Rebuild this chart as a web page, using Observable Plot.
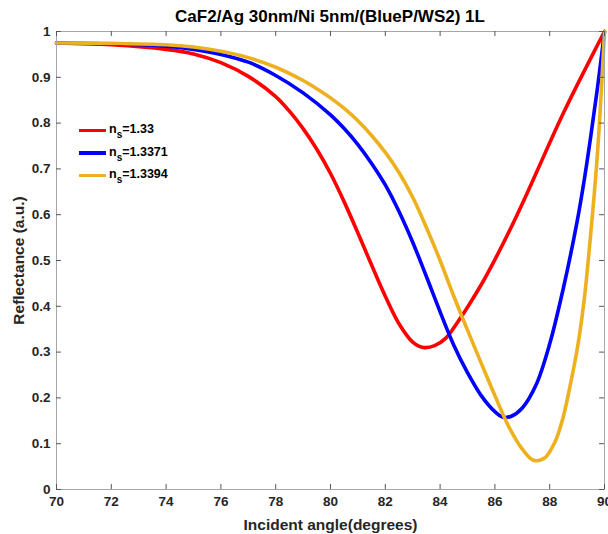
<!DOCTYPE html>
<html><head><meta charset="utf-8">
<script src="https://cdn.jsdelivr.net/npm/d3@7"></script>
<script src="https://cdn.jsdelivr.net/npm/@observablehq/plot@0.6"></script>
<style>
body{margin:0;background:#fff;font-family:"Liberation Sans",Arial,sans-serif;}
#wrap{position:relative;width:608px;height:534px;overflow:hidden;background:#fff}
#title{height:24px;box-sizing:border-box;padding:8px 4px 0 56px;text-align:center;font-weight:bold;font-size:17px;color:#000;line-height:17px;white-space:nowrap}
#legend{position:absolute;left:79px;top:119px;font-weight:bold;font-size:12.5px;color:#000}
.row{display:flex;align-items:center;height:22.5px}
.sw{width:27px;height:3.5px;margin-right:3px}
.lab{position:relative;top:-1px}
.lab sub{font-size:10px;vertical-align:-5px;line-height:0}
</style></head>
<body><div id="wrap"><div id="title"></div><div id="chart"></div><div id="legend"></div></div>
<script>
const title = "CaF2/Ag 30nm/Ni 5nm/(BlueP/WS2) 1L";
const xLabel = "Incident angle(degrees)";
const yLabel = "Reflectance (a.u.)";
const xTicks = [70,72,74,76,78,80,82,84,86,88,90];
const yTicks = [0,0.1,0.2,0.3,0.4,0.5,0.6,0.7,0.8,0.9,1];
const seriesNames = ["1.33","1.3371","1.3394"];
const seriesColors = ["#ff0000","#0000ff","#edb120"];

const redAngle = [70,72,74,75,76,77,78,78.5,79,79.5,80,80.5,81,81.5,82,82.5,83,83.4,83.8,84.2,84.6,85,85.5,86,86.5,87,87.5,88,88.5,89,89.5,90];
const redR     = [0.975,0.971,0.961,0.951,0.932,0.902,0.858,0.826,0.788,0.743,0.690,0.628,0.560,0.490,0.422,0.362,0.322,0.310,0.314,0.330,0.362,0.398,0.447,0.502,0.561,0.624,0.690,0.757,0.822,0.883,0.942,1.0];

const blueAngle = [70,72,74,75,76,77,78,79,80,80.5,81,81.5,82,82.5,83,83.5,84,84.5,85,85.5,86,86.3,86.6,87,87.5,88,88.5,89,89.25,89.5,89.75,90];
const blueR     = [0.975,0.973,0.968,0.961,0.950,0.933,0.904,0.866,0.818,0.788,0.753,0.712,0.665,0.607,0.540,0.465,0.388,0.315,0.255,0.205,0.170,0.158,0.160,0.178,0.228,0.318,0.440,0.585,0.672,0.772,0.880,1.0];

const yellowAngle = [70,72,74,75,76,77,78,79,79.5,80,80.5,81,81.5,82,82.5,83,83.5,84,84.5,85,85.5,86,86.5,87,87.4,87.8,88.2,88.5,88.75,89,89.25,89.5,89.75,90];
const yellowR     = [0.975,0.974,0.971,0.966,0.957,0.943,0.922,0.893,0.875,0.855,0.832,0.805,0.773,0.736,0.692,0.638,0.572,0.500,0.422,0.348,0.276,0.205,0.138,0.088,0.064,0.068,0.105,0.160,0.228,0.305,0.410,0.560,0.740,1.0];

const toRows = (a, r) => a.map((x, i) => ({angle: x, R: r[i]}));
const series = [toRows(redAngle, redR), toRows(blueAngle, blueR), toRows(yellowAngle, yellowR)];

document.getElementById("title").textContent = title;

const axisColor = "#262626";
const frameColor = "#a6a6a6";
const tickDX = 0.18, tickDY = 0.011;

const plot = Plot.plot({
  width: 608, height: 510,
  marginLeft: 56, marginRight: 4, marginTop: 7, marginBottom: 45,
  style: {fontFamily: "'Liberation Sans', Arial, sans-serif", background: "#fff"},
  x: {domain: [70, 90]},
  y: {domain: [0, 1]},
  marks: [
    ...series.map((rows, i) => Plot.line(rows, {x: "angle", y: "R", stroke: seriesColors[i], strokeWidth: 3.6, curve: "catmull-rom"})),
    Plot.frame({stroke: frameColor, strokeWidth: 1}),
    Plot.ruleX(xTicks, {x: d => d, y1: 0, y2: tickDY, stroke: "#555"}),
    Plot.ruleX(xTicks, {x: d => d, y1: 1, y2: 1 - tickDY, stroke: "#555"}),
    Plot.ruleY(yTicks, {y: d => d, x1: 70, x2: 70 + tickDX, stroke: "#555"}),
    Plot.ruleY(yTicks, {y: d => d, x1: 90, x2: 90 - tickDX, stroke: "#555"}),
    Plot.axisX(xTicks, {tickSize: 0, tickPadding: 7, fontSize: 13.5, fontWeight: "bold", fill: axisColor,
      label: xLabel, labelAnchor: "center", labelArrow: "none", labelOffset: 40}),
    Plot.axisY(yTicks, {tickSize: 0, tickPadding: 6, fontSize: 13.5, fontWeight: "bold", fill: axisColor,
      tickFormat: d => String(d), label: yLabel, labelAnchor: "center", labelArrow: "none", labelOffset: 44})
  ]
});
plot.querySelectorAll("[aria-label='x-axis label'] text, [aria-label='y-axis label'] text").forEach(t => {
  t.setAttribute("font-size", "15.5"); t.setAttribute("font-weight", "bold"); t.setAttribute("fill", axisColor);
});
document.getElementById("chart").appendChild(plot);

const leg = document.getElementById("legend");
seriesNames.forEach((n, i) => {
  const row = document.createElement("div"); row.className = "row";
  const sw = document.createElement("div"); sw.className = "sw"; sw.style.background = seriesColors[i];
  const lab = document.createElement("span"); lab.className = "lab";
  lab.innerHTML = "n<sub>s</sub>=" + n;
  row.appendChild(sw); row.appendChild(lab); leg.appendChild(row);
});
</script></body></html>
